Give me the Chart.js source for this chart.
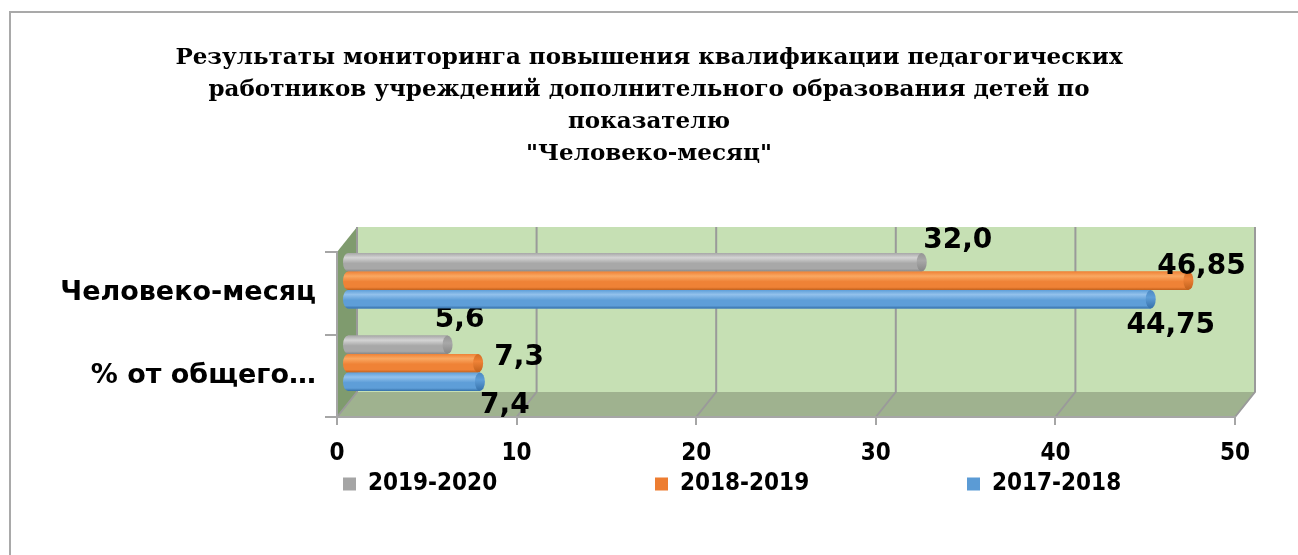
<!DOCTYPE html>
<html><head><meta charset="utf-8">
<script src="https://cdn.jsdelivr.net/npm/chart.js@4.4.1/dist/chart.umd.min.js"></script>
<style>
html,body{margin:0;padding:0;background:#fff;overflow:hidden;width:1298px;height:555px;}
#frame{position:absolute;left:9px;top:11px;width:1600px;height:800px;border:2px solid #a9a9a9;box-sizing:border-box;}
#wrap{position:absolute;left:0;top:0;width:1298px;height:555px;}
</style></head><body>
<div id="frame"></div>
<div id="wrap"><canvas id="c"></canvas></div>
<script>
// ---- data ----
const categories = ['Человеко-месяц', '% от общего…'];
const seriesNames = ['2019-2020', '2018-2019', '2017-2018'];
const values2019_2020 = [32.0, 5.6];
const values2018_2019 = [46.85, 7.3];
const values2017_2018 = [44.75, 7.4];
const xTickValues = [0, 10, 20, 30, 40, 50];
const titleLines = [
  'Результаты мониторинга повышения квалификации педагогических',
  'работников учреждений дополнительного образования детей по',
  'показателю',
  '"Человеко-месяц"'
];

// ---- styles / layout ----
const seriesColors = ['#a5a5a5', '#ed7d31', '#5b9bd5'];
const shades = [
  {dark:'#868686', light:'#d4d4d4', mid:'#a8a8a8', cap:'#959595'},
  {dark:'#c0601c', light:'#f9a862', mid:'#ef8236', cap:'#d26c24'},
  {dark:'#3671aa', light:'#92c1ec', mid:'#5e9ed8', cap:'#4b88c2'}
];
// label offsets from bar end / bar centre, per series, per category
const labelOffsets = [
  [[36, -22], [12, -25]],
  [[13, -14], [41, -6]],
  [[20, 27], [25, 24]]
];
const DX = 20, DY = -25;            // 3D depth
const BAR_SHIFT = [10, -12.5];      // bars sit mid-depth
const WALL = '#c6e0b4', SIDE = '#7f9b6e', FLOOR = '#9fb28f', GRID = '#9a9a9a';
const AXIS_FONT = "'DejaVu Sans Condensed', 'DejaVu Sans', sans-serif";
const RIGHT_PAD = 63;

function fmt(v){
  const s = Number.isInteger(v) ? v.toFixed(1) : String(v);
  return s.replace('.', ',');
}

const depthPlugin = {
  id: 'depth3d',
  afterLayout(chart){
    // centre the title on the full canvas width
    const t = chart.titleBlock;
    if (t) { t.left += RIGHT_PAD / 2; t.right += RIGHT_PAD / 2; }
  },
  beforeDraw(chart){
    const {ctx, chartArea:a, scales:{x}} = chart;
    ctx.save();
    ctx.fillStyle = WALL;
    ctx.fillRect(a.left + DX, a.top + DY, a.right - a.left, a.bottom - a.top);
    ctx.fillStyle = SIDE;
    ctx.beginPath();
    ctx.moveTo(a.left, a.top); ctx.lineTo(a.left + DX, a.top + DY);
    ctx.lineTo(a.left + DX, a.bottom + DY); ctx.lineTo(a.left, a.bottom);
    ctx.closePath(); ctx.fill();
    ctx.fillStyle = FLOOR;
    ctx.beginPath();
    ctx.moveTo(a.left, a.bottom); ctx.lineTo(a.right, a.bottom);
    ctx.lineTo(a.right + DX, a.bottom + DY); ctx.lineTo(a.left + DX, a.bottom + DY);
    ctx.closePath(); ctx.fill();
    ctx.strokeStyle = GRID; ctx.lineWidth = 2;
    x.ticks.forEach(t => {
      const px = x.getPixelForValue(t.value);
      ctx.beginPath();
      ctx.moveTo(px + DX, a.top + DY); ctx.lineTo(px + DX, a.bottom + DY);
      ctx.lineTo(px, a.bottom);
      ctx.stroke();
    });
    ctx.restore();
  },
  beforeDatasetsDraw(chart){
    chart.ctx.save();
    chart.ctx.translate(BAR_SHIFT[0], BAR_SHIFT[1]);
  },
  afterDatasetsDraw(chart){
    const ctx = chart.ctx;
    chart.data.datasets.forEach((ds, di) => {
      const meta = chart.getDatasetMeta(di);
      const sh = shades[di];
      meta.data.forEach((bar, i) => {
        const {x, y, base, height} = bar.getProps(['x','y','base','height'], true);
        const h = height, top = y - h/2;
        const rx = Math.min(5, h * 0.28);
        const g = ctx.createLinearGradient(0, top, 0, top + h);
        g.addColorStop(0, sh.mid); g.addColorStop(0.25, sh.light);
        g.addColorStop(0.55, sh.mid); g.addColorStop(0.85, sh.mid); g.addColorStop(1, sh.dark);
        ctx.fillStyle = g;
        ctx.beginPath();
        ctx.moveTo(base, top); ctx.lineTo(x, top); ctx.lineTo(x, top + h); ctx.lineTo(base, top + h);
        ctx.ellipse(base, y, rx, h/2, 0, Math.PI/2, Math.PI*1.5);
        ctx.closePath(); ctx.fill();
        const gc = ctx.createLinearGradient(0, top, 0, top + h);
        gc.addColorStop(0, sh.cap); gc.addColorStop(0.4, sh.mid); gc.addColorStop(1, sh.dark);
        ctx.fillStyle = gc;
        ctx.beginPath(); ctx.ellipse(x, y, rx, h/2, 0, 0, Math.PI*2); ctx.fill();
        // value label
        const off = labelOffsets[di][i];
        ctx.fillStyle = '#000';
        ctx.font = "bold 28px 'DejaVu Sans', sans-serif";
        ctx.textAlign = 'center'; ctx.textBaseline = 'middle';
        ctx.fillText(fmt(ds.data[i]), x + off[0], y + off[1]);
      });
    });
    ctx.restore();
  },
  afterDraw(chart){
    // legend spread across the bottom like the original
    const {ctx, chartArea:a} = chart;
    const startX = a.left + 6, step = 312, cy = 484, box = 13;
    ctx.save();
    ctx.font = "bold 24px " + AXIS_FONT;
    ctx.textAlign = 'left'; ctx.textBaseline = 'middle';
    chart.data.datasets.forEach((ds, di) => {
      const x0 = startX + di * step;
      ctx.fillStyle = ds.backgroundColor;
      ctx.fillRect(x0, cy - box/2, box, box);
      ctx.fillStyle = '#000';
      ctx.fillText(ds.label, x0 + 25, cy);
    });
    ctx.restore();
  }
};

const datasets = [values2019_2020, values2018_2019, values2017_2018].map((vals, i) => ({
  label: seriesNames[i],
  data: vals,
  backgroundColor: seriesColors[i],
  borderWidth: 0,
  categoryPercentage: 0.67,
  barPercentage: 1
}));

new Chart(document.getElementById('c'), {
  type: 'bar',
  data: { labels: categories, datasets },
  plugins: [depthPlugin],
  options: {
    indexAxis: 'y',
    responsive: true,
    maintainAspectRatio: false,
    animation: false,
    layout: { padding: { left: 0, right: RIGHT_PAD, top: 0, bottom: 78 } },
    scales: {
      x: {
        min: 0, max: 50,
        afterBuildTicks: s => { s.ticks = xTickValues.map(v => ({ value: v })); },
        ticks: { color: '#000', padding: 14, font: { family: AXIS_FONT, size: 24, weight: 'bold' } },
        grid: { drawOnChartArea: false, drawTicks: true, tickLength: 8, color: '#a6a6a6', lineWidth: 2 },
        border: { display: true, color: '#a6a6a6', width: 2 },
        afterFit: s => { s.height = 60; }
      },
      y: {
        ticks: { color: '#000', padding: 9, crossAlign: 'near', font: { family: "'DejaVu Sans', sans-serif", size: 27, weight: 'bold' } },
        grid: { drawOnChartArea: false, drawTicks: true, tickLength: 12, color: '#a6a6a6', lineWidth: 2, offset: true },
        border: { display: true, color: '#a6a6a6', width: 2 },
        afterFit: s => { s.width = 337; }
      }
    },
    plugins: {
      legend: { display: false },
      tooltip: { enabled: false },
      title: {
        display: true, text: titleLines, color: '#000',
        font: { family: "'DejaVu Serif', serif", size: 23, weight: 'bold', lineHeight: '32px' },
        padding: { top: 42, bottom: 82 }
      }
    }
  }
});
</script>
</body></html>
